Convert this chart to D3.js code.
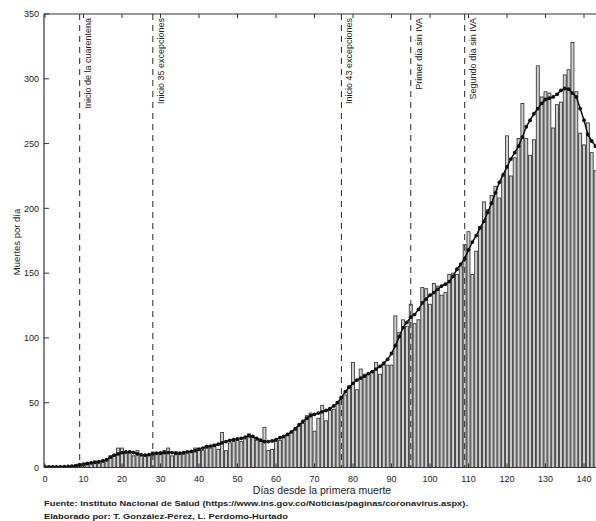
<!DOCTYPE html>
<html>
<head>
<meta charset="utf-8">
<script src="https://cdn.jsdelivr.net/npm/d3@7"></script>
<style>
  html, body { margin: 0; padding: 0; background: #fff; }
  svg { display: block; font-family: "Liberation Sans", Arial, sans-serif; }
</style>
</head>
<body>
<svg id="chart" width="596" height="521"></svg>
<script>
// Daily deaths since the first recorded death (day 0)
const deaths = [
  1, 0, 1, 0, 1, 1, 0, 1, 2, 3,
  2, 4, 3, 5, 3, 5, 6, 9, 10, 15,
  15, 11, 12, 9, 13, 9, 10, 10, 12, 11,
  12, 13, 15, 9, 12, 11, 10, 12, 12, 15,
  15, 13, 17, 15, 18, 14, 27, 13, 19, 20,
  21, 20, 22, 26, 23, 21, 22, 31, 13, 14,
  20, 21, 23, 25, 27, 29, 32, 34, 40, 42,
  28, 38, 48, 36, 44, 45, 51, 55, 56, 63,
  81, 60, 76, 72, 72, 74, 81, 72, 79, 79,
  79, 117, 104, 114, 109, 126, 111, 114, 139, 138,
  126, 142, 140, 133, 135, 149, 150, 149, 155, 172,
  182, 149, 167, 186, 205, 199, 210, 217, 208, 225,
  256, 225, 239, 254, 281, 254, 241, 253, 310, 286,
  290, 289, 262, 280, 282, 303, 307, 328, 290, 258,
  249, 266, 243, 229
];

// Smoothed daily deaths (moving average curve)
const movingAvg = [
  0.5, 0.5, 0.5, 0.5, 0.5, 0.6, 0.8, 1, 1.5, 2,
  2.5, 3, 3.5, 4, 4.5, 5, 6, 8, 9.5, 10.5,
  11.5, 12, 12, 11.5, 10.5, 10, 9.5, 10, 10.5, 11,
  11, 11.5, 11.5, 11.5, 11, 11, 11.5, 12, 12.5, 13,
  14, 15, 16, 16.5, 17, 18, 19, 20, 21, 21.5,
  22, 22.5, 23.5, 24.5, 24, 22.5, 21, 20, 20, 20.5,
  21.5, 23, 24, 25.5, 27.5, 30, 33, 35.5, 38, 40,
  41, 42, 43, 44, 45.5, 47.5, 50, 54, 58.5, 62,
  65, 67.5, 69, 70.5, 72.5, 74, 76, 78, 80.5, 83.5,
  88, 94, 101, 108, 112, 116, 118, 122, 127, 130,
  133, 135, 137.5, 140, 141.5, 143.5, 147.5, 153, 157, 161,
  168, 174, 179, 185, 190, 197, 204, 212, 220, 226,
  232, 238, 243, 248, 255, 263, 268, 273, 277, 281,
  284, 285, 286, 288, 291, 292.5, 292, 289, 286, 277,
  268, 257, 252, 248
];

const days = d3.range(deaths.length);

// Policy milestones marked with dashed vertical lines
const eventDays = [9, 28, 77, 95, 109];
const eventLabels = [
  "Inicio de la cuarentena",
  "Inicio 35 excepciones",
  "Inicio 43 excepciones",
  "Primer día sin IVA",
  "Segundo día sin IVA"
];

const xTicks = d3.range(0, 141, 10);
const yTicks = d3.range(0, 351, 50);

const footerLines = [
  "Fuente: Instituto Nacional de Salud (https://www.ins.gov.co/Noticias/paginas/coronavirus.aspx).",
  "Elaborado por: T. González-Pérez, L. Perdomo-Hurtado"
];

// ---- layout ----
const W = 596, H = 521;
const plotLeft = 45, plotTop = 14, plotBottom = 467.5;
const pxPerDay = 3.85;

const x = d3.scaleLinear().domain([0, 140]).range([plotLeft, plotLeft + 140 * pxPerDay]);
const y = d3.scaleLinear().domain([0, 350]).range([plotBottom, plotTop]);

const svg = d3.select("#chart");

svg.append("defs").append("clipPath").attr("id", "plotClip")
  .append("rect").attr("x", plotLeft - 1).attr("y", plotTop)
  .attr("width", W - plotLeft + 1).attr("height", plotBottom - plotTop);

const plot = svg.append("g").attr("clip-path", "url(#plotClip)");

// bars
const barW = 3.0;
plot.append("g").selectAll("rect").data(days).join("rect")
  .attr("x", d => x(d) - barW / 2)
  .attr("y", d => y(deaths[d]))
  .attr("width", barW)
  .attr("height", d => y(0) - y(deaths[d]))
  .attr("fill", "#cfcfcf")
  .attr("stroke", "#333")
  .attr("stroke-width", 0.85);

// dashed event lines
plot.append("g").selectAll("line").data(eventDays).join("line")
  .attr("x1", d => x(d)).attr("x2", d => x(d))
  .attr("y1", plotTop).attr("y2", plotBottom)
  .attr("stroke", "#3a3a3a")
  .attr("stroke-width", 1.1)
  .attr("stroke-dasharray", "6,5");

// moving average curve with markers
const line = d3.line().x(d => x(d)).y(d => y(movingAvg[d]));
plot.append("path").datum(days)
  .attr("d", line)
  .attr("fill", "none")
  .attr("stroke", "#111")
  .attr("stroke-width", 1.5);
plot.append("g").selectAll("circle").data(days).join("circle")
  .attr("cx", d => x(d))
  .attr("cy", d => y(movingAvg[d]))
  .attr("r", 1.9)
  .attr("fill", "#111");

// event labels (vertical, reading upward)
svg.append("g").selectAll("text").data(eventDays).join("text")
  .attr("transform", d => `translate(${x(d) + 11},${plotTop + 4}) rotate(-90)`)
  .attr("text-anchor", "end")
  .attr("font-size", 9)
  .attr("fill", "#222")
  .text((d, i) => eventLabels[i]);

// frame: left, bottom, top
const axisColor = "#333";
svg.append("line").attr("x1", plotLeft - 1).attr("x2", plotLeft - 1).attr("y1", plotTop).attr("y2", plotBottom)
  .attr("stroke", axisColor).attr("stroke-width", 1.2);
svg.append("line").attr("x1", plotLeft - 1).attr("x2", W).attr("y1", plotBottom).attr("y2", plotBottom)
  .attr("stroke", axisColor).attr("stroke-width", 1.2);
svg.append("line").attr("x1", plotLeft - 1).attr("x2", W).attr("y1", plotTop).attr("y2", plotTop)
  .attr("stroke", axisColor).attr("stroke-width", 1.2);

// y axis: inward ticks, labels on the left
const yAxis = svg.append("g");
yAxis.selectAll("line").data(yTicks).join("line")
  .attr("x1", plotLeft - 1).attr("x2", plotLeft + 4)
  .attr("y1", d => y(d)).attr("y2", d => y(d))
  .attr("stroke", axisColor).attr("stroke-width", 1);
yAxis.selectAll("text").data(yTicks).join("text")
  .attr("x", plotLeft - 6).attr("y", d => y(d) + 3.2)
  .attr("text-anchor", "end")
  .attr("font-size", 9)
  .attr("fill", "#222")
  .text(d => d);

// x axis: inward ticks at bottom and top
const xAxis = svg.append("g");
xAxis.selectAll("line.b").data(xTicks).join("line").attr("class", "b")
  .attr("x1", d => x(d)).attr("x2", d => x(d))
  .attr("y1", plotBottom).attr("y2", plotBottom - 4)
  .attr("stroke", axisColor).attr("stroke-width", 1);
xAxis.selectAll("line.t").data(xTicks).join("line").attr("class", "t")
  .attr("x1", d => x(d)).attr("x2", d => x(d))
  .attr("y1", plotTop).attr("y2", plotTop + 4)
  .attr("stroke", axisColor).attr("stroke-width", 1);
xAxis.selectAll("text").data(xTicks).join("text")
  .attr("x", d => x(d)).attr("y", plotBottom + 14.5)
  .attr("text-anchor", "middle")
  .attr("font-size", 9)
  .attr("fill", "#222")
  .text(d => d);

// axis titles
svg.append("text")
  .attr("x", 322).attr("y", 494)
  .attr("text-anchor", "middle")
  .attr("font-size", 10.5)
  .attr("fill", "#222")
  .text("Días desde la primera muerte");

svg.append("text")
  .attr("transform", `translate(19.5,242) rotate(-90)`)
  .attr("text-anchor", "middle")
  .attr("font-size", 9.5)
  .attr("fill", "#222")
  .text("Muertes por día");

// source notes
const footerWidths = [424, 244];
svg.append("g").selectAll("text").data(footerLines).join("text")
  .attr("x", 44)
  .attr("y", (d, i) => 506 + i * 12.5)
  .attr("font-size", 8)
  .attr("font-weight", "bold")
  .attr("fill", "#222")
  .attr("textLength", (d, i) => footerWidths[i])
  .attr("lengthAdjust", "spacingAndGlyphs")
  .text(d => d);
</script>
</body>
</html>
